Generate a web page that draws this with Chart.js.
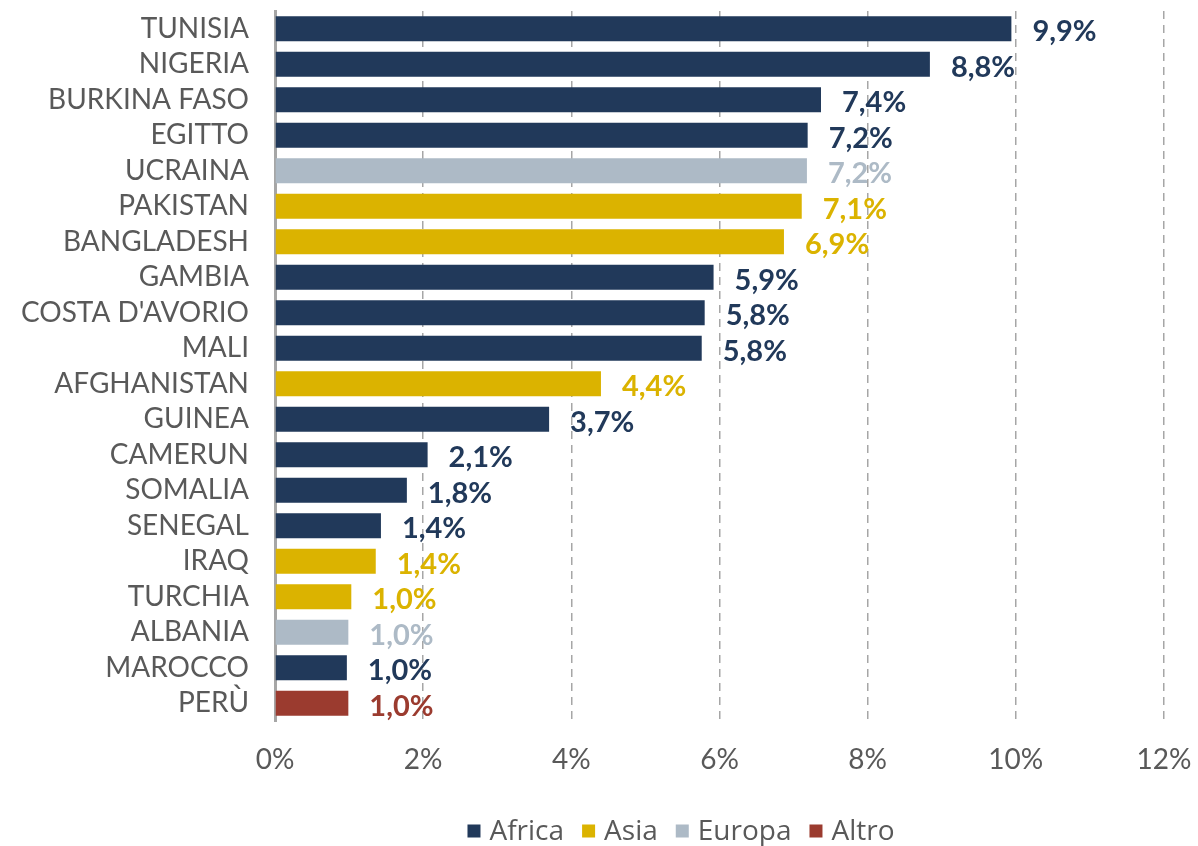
<!DOCTYPE html>
<html>
<head>
<meta charset="utf-8">
<style>
  html, body { margin: 0; padding: 0; background: #fff; }
  #wrap { width: 1198px; height: 846px; }
</style>
<script src="https://cdn.jsdelivr.net/npm/chart.js"></script>
</head>
<body>
<div id="wrap"><canvas id="chart" width="1198" height="846"></canvas></div>
<script>
  // dati
  const countries = ["TUNISIA", "NIGERIA", "BURKINA FASO", "EGITTO", "UCRAINA", "PAKISTAN", "BANGLADESH",
    "GAMBIA", "COSTA D'AVORIO", "MALI", "AFGHANISTAN", "GUINEA", "CAMERUN", "SOMALIA", "SENEGAL",
    "IRAQ", "TURCHIA", "ALBANIA", "MAROCCO", "PERÙ"];
  const values = [9.94, 8.84, 7.37, 7.19, 7.18, 7.11, 6.87, 5.92, 5.80, 5.76, 4.40, 3.70, 2.06, 1.78,
    1.43, 1.36, 1.03, 0.99, 0.97, 0.99];
  const regionOf = ["Africa", "Africa", "Africa", "Africa", "Europa", "Asia", "Asia", "Africa", "Africa",
    "Africa", "Asia", "Africa", "Africa", "Africa", "Africa", "Asia", "Asia", "Europa", "Africa", "Altro"];
  const regions = ["Africa", "Asia", "Europa", "Altro"];
  const regionColors = ["#21395A", "#DBB300", "#ADBAC6", "#9B3B2F"];
  const xTicks = [0, 2, 4, 6, 8, 10, 12];

  const datasets = regions.map((r, i) => ({
    label: r,
    data: values.map((v, j) => (regionOf[j] === r ? v : null)),
    backgroundColor: regionColors[i],
    borderWidth: 0
  }));

  // etichette valore a destra delle barre
  const valueLabels = {
    id: "valueLabels",
    afterDatasetsDraw(chart) {
      const ctx = chart.ctx;
      ctx.save();
      ctx.font = "bold 29px Lato";
      ctx.textAlign = "left";
      ctx.textBaseline = "middle";
      chart.data.datasets.forEach((ds, i) => {
        const meta = chart.getDatasetMeta(i);
        meta.data.forEach((bar, j) => {
          const v = ds.data[j];
          if (v === null) return;
          ctx.fillStyle = ds.backgroundColor;
          ctx.fillText(v.toFixed(1).replace(".", ",") + "%", bar.x + 21, bar.y + 3);
        });
      });
      ctx.restore();
    }
  };

  // legenda in basso
  const bottomLegend = {
    id: "bottomLegend",
    afterDraw(chart) {
      const ctx = chart.ctx;
      ctx.save();
      ctx.font = "28px 'Open Sans'";
      ctx.textBaseline = "middle";
      const box = 13, gap = 9, itemGap = 18;
      const widths = regions.map(r => box + gap + ctx.measureText(r).width);
      const total = widths.reduce((a, b) => a + b, 0) + itemGap * (regions.length - 1);
      let x = 681 - total / 2;
      const y = 831;
      regions.forEach((r, i) => {
        ctx.fillStyle = regionColors[i];
        ctx.fillRect(x, y - box / 2, box, box);
        ctx.fillStyle = "#595959";
        ctx.fillText(r, x + box + gap, y + 1);
        x += widths[i] + itemGap;
      });
      ctx.restore();
    }
  };

  new Chart(document.getElementById("chart"), {
    type: "bar",
    data: { labels: countries, datasets: datasets },
    options: {
      indexAxis: "y",
      responsive: false,
      animation: false,
      layout: { padding: { top: 11, right: 34, left: 0, bottom: 0 } },
      datasets: { bar: { grouped: false, barPercentage: 0.7, categoryPercentage: 1 } },
      plugins: { legend: { display: false }, tooltip: { enabled: false } },
      scales: {
        x: {
          min: 0,
          max: 12,
          afterBuildTicks: s => { s.ticks = xTicks.map(v => ({ value: v })); },
          afterFit: s => { s.height = 125; s.paddingLeft = 0; s.paddingRight = 0; },
          ticks: {
            padding: 22,
            color: "#595959",
            font: { family: "Lato", size: 28 },
            callback: v => v + "%"
          },
          grid: {
            drawTicks: false,
            lineWidth: 1.5,
            color: c => (c.tick && c.tick.value === 0 ? "rgba(0,0,0,0)" : "#A6A6A6")
          },
          border: { display: false, dash: [8, 6] }
        },
        y: {
          afterFit: s => { s.width = 275; s.paddingTop = 0; s.paddingBottom = 0; },
          ticks: {
            padding: 26,
            color: "#595959",
            font: { family: "Lato", size: 28 },
            autoSkip: false
          },
          grid: { display: false, drawTicks: false },
          border: { display: true, color: "#A6A6A6", width: 3 }
        }
      }
    },
    plugins: [valueLabels, bottomLegend]
  });
</script>
</body>
</html>
